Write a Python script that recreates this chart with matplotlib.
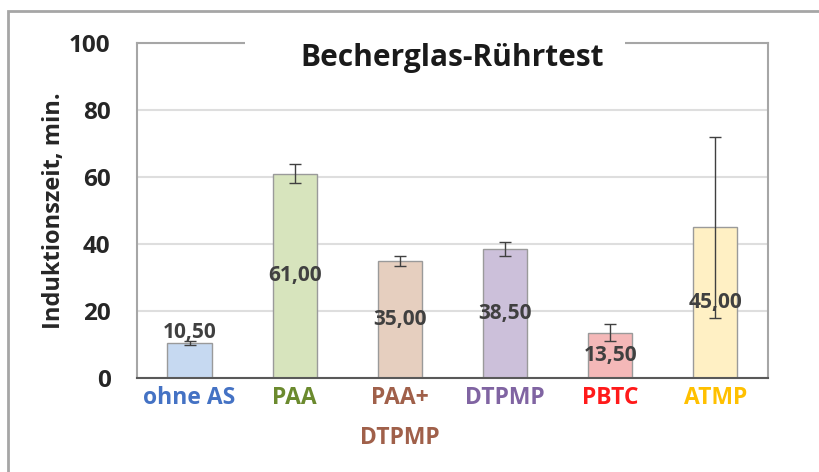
import numpy as np
import matplotlib.pyplot as plt
from matplotlib.patches import Rectangle

plt.rcParams['font.family'] = ['Open Sans', 'DejaVu Sans']

# Induktionszeiten im Becherglas-Rührtest
kategorien = ['ohne AS', 'PAA', 'PAA+\nDTPMP', 'DTPMP', 'PBTC', 'ATMP']
werte = [10.5, 61.0, 35.0, 38.5, 13.5, 45.0]
fehler = [0.7, 2.8, 1.5, 2.0, 2.5, 27.0]
fuellfarben = ['#c6d9f1', '#d7e4bd', '#e6cfbf', '#ccc0da', '#f4b8b8', '#fff0c4']
textfarben = ['#4472c4', '#6b8a2e', '#a0604a', '#8064a2', '#ff1a1a', '#ffc000']
wert_texte = ['10,50', '61,00', '35,00', '38,50', '13,50', '45,00']
yticks = [0, 20, 40, 60, 80, 100]

fig = plt.figure(figsize=(8.2, 4.72), dpi=100)
ax = fig.add_axes([0.167, 0.199, 0.7695, 0.710])

x = np.arange(len(kategorien))
ax.bar(x, werte, width=0.42, color=fuellfarben, edgecolor='#9a9a9a', linewidth=1, zorder=2)
ax.errorbar(x, werte, yerr=fehler, fmt='none', ecolor='#404040', elinewidth=1,
            capsize=4, capthick=1, zorder=3)

# Wertebeschriftungen: kleine Balken oberhalb, sonst in der Mitte
for xi, w, t in zip(x, werte, wert_texte):
    y = w + 3.2 if w < 12 else w / 2
    ax.text(xi, y, t, ha='center', va='center', fontsize=15, fontweight='bold',
            color='#404040', zorder=4)

ax.set_xlim(-0.5, len(kategorien) - 0.5)
ax.set_ylim(0, 100)
ax.set_yticks(yticks)
ax.set_yticklabels([str(v) for v in yticks], fontsize=17.5, fontweight='bold', color='#262626')
ax.set_xticks(x)
ax.set_xticklabels(kategorien, fontsize=16.5, fontweight='bold', va='top', linespacing=1.85)
for lbl, c in zip(ax.get_xticklabels(), textfarben):
    lbl.set_color(c)
ax.tick_params(axis='both', length=0)
ax.tick_params(axis='y', pad=19)
ax.tick_params(axis='x', pad=6)

ax.yaxis.grid(True, color='#dedede', linewidth=1.5, zorder=0)
ax.set_axisbelow(True)
for s in ax.spines.values():
    s.set_color('#a6a6a6')
    s.set_linewidth(1.5)
ax.spines['bottom'].set_color('#595959')

ax.set_ylabel('Induktionszeit, min.', fontsize=17, fontweight='bold', color='#262626', labelpad=2)

# Titel mit weißem Hintergrund über der oberen Rahmenlinie
ax.add_patch(Rectangle((0.171, 0.93), 0.602, 0.09, transform=ax.transAxes,
                       facecolor='white', edgecolor='none', clip_on=False, zorder=5))
ax.text(0.5, 0.955, 'Becherglas-Rührtest', transform=ax.transAxes, ha='center', va='center',
        fontsize=21.5, fontweight='bold', color='#1a1a1a', zorder=6)

# Außenrahmen
fig.add_artist(Rectangle((8 / 820, -0.05), 1.05, (472 - 11) / 472 + 0.05, transform=fig.transFigure,
                         facecolor='none', edgecolor='#a6a6a6', linewidth=2))

fig.savefig('out.png', dpi=100)
